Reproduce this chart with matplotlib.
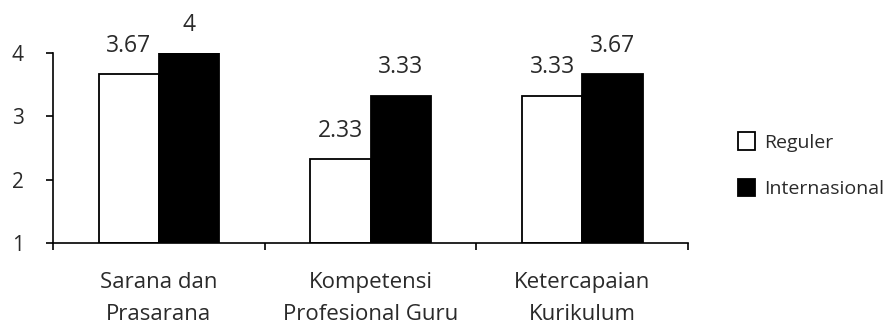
import matplotlib
matplotlib.use("Agg")
import matplotlib.pyplot as plt
import numpy as np

categories = ["Sarana dan\nPrasarana", "Kompetensi\nProfesional Guru", "Ketercapaian\nKurikulum"]
reguler = [3.67, 2.33, 3.33]
internasional = [4, 3.33, 3.67]
series_names = ["Reguler", "Internasional"]
yticks = [1, 2, 3, 4]

plt.rcParams["font.family"] = ["Open Sans", "DejaVu Sans"]
TXT = "#2a2a2a"

fig = plt.figure(figsize=(8.92, 3.24), dpi=100)
ax = fig.add_axes([0.0594, 0.25, 0.712, 0.586])

x = np.arange(len(categories))
w = 0.285
b1 = ax.bar(x - w / 2, np.array(reguler) - 1, w, bottom=1, color="white",
            edgecolor="black", linewidth=1.3, label=series_names[0])
b2 = ax.bar(x + w / 2, np.array(internasional) - 1, w, bottom=1, color="black",
            edgecolor="black", linewidth=1.3, label=series_names[1])

for bars, vals in ((b1, reguler), (b2, internasional)):
    for rect, v in zip(bars, vals):
        ax.annotate(f"{v:g}", (rect.get_x() + rect.get_width() / 2, v),
                    xytext=(0, 16), textcoords="offset points",
                    ha="center", va="baseline", fontsize=16.5, color=TXT,
                    annotation_clip=False)

ax.set_xlim(-0.5, len(categories) - 0.5)
ax.set_ylim(1, 4)
ax.set_yticks(yticks)
ax.set_yticklabels([str(t) for t in yticks], fontsize=15, color=TXT)

# category labels centred between boundary ticks
ax.set_xticks(x)
ax.set_xticklabels(categories, fontsize=16, color=TXT, linespacing=1.65)
ax.tick_params(axis="x", length=0, pad=21)
ax.set_xticks(np.arange(-0.5, len(categories)), minor=True)
ax.tick_params(axis="x", which="minor", length=5, width=1.2, direction="out")
ax.tick_params(axis="y", length=5, width=1.2, direction="out", pad=16)

for s in ("top", "right"):
    ax.spines[s].set_visible(False)
for s in ("left", "bottom"):
    ax.spines[s].set_linewidth(1.2)
ax.spines["bottom"].set_zorder(5)

ax.legend(loc="center left", bbox_to_anchor=(1.079, 0.41), frameon=False,
          fontsize=14, handlelength=0.85, handleheight=1.0, handletextpad=0.5,
          labelspacing=1.4, borderpad=0, borderaxespad=0,
          labelcolor=TXT)

fig.savefig("out.png", dpi=100)
